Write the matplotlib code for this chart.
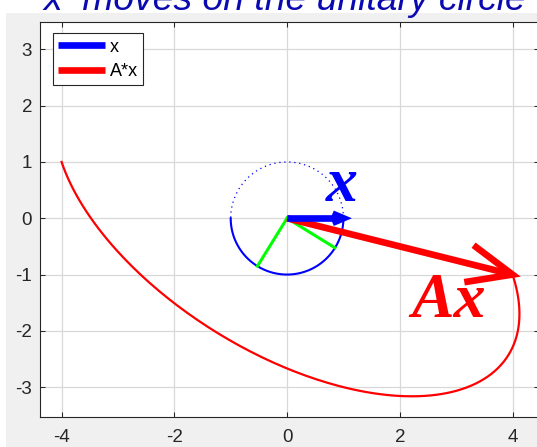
import numpy as np
import matplotlib
matplotlib.use("Agg")
import matplotlib.pyplot as plt
from matplotlib.patches import Rectangle

# matrix and the part of the unit circle that x has already travelled
A = np.array([[4.0, -1.0],
              [-1.0, 3.0]])
theta_done = (np.pi, 2 * np.pi)      # solid part of the circle, traced by A*x
theta_todo = (0.0, np.pi)            # dotted part, still to come
x_now = np.array([1.0, 0.0])         # current x on the circle

x_ticks = [-4, -2, 0, 2, 4]
y_ticks = [-3, -2, -1, 0, 1, 2, 3]
x_lim = (-4.376, 4.47)
y_lim = (-3.53, 3.495)

title_text = "x  moves on the unitary circle"
legend_labels = ["x", "A*x"]

BLUE = (0, 0, 1)
RED = (1, 0, 0)
GREEN = (0, 1, 0)
DARK = "#262626"

plt.rcParams["font.family"] = ["Liberation Sans", "DejaVu Sans"]
plt.rcParams["axes.unicode_minus"] = False


def quiver_arrow(ax, v, color, label, lw=4.8, head=0.21, spread=23):
    """Thick arrow from the origin with an open two-barb head."""
    ax.plot([0, v[0]], [0, v[1]], color=color, lw=lw,
            solid_capstyle="butt", label=label, zorder=5)
    n = np.linalg.norm(v)
    back = -v / n
    ends = []
    for a in (np.radians(spread), -np.radians(spread)):
        rot = np.array([[np.cos(a), -np.sin(a)], [np.sin(a), np.cos(a)]])
        ends.append(v + head * n * rot @ back)
    ax.plot([ends[0][0], v[0], ends[1][0]], [ends[0][1], v[1], ends[1][1]],
            color=color, lw=lw, solid_joinstyle="miter",
            solid_capstyle="butt", zorder=5)


fig = plt.figure(figsize=(5.37, 4.47), dpi=100, facecolor="white")
# grey window area below the white strip holding the title
fig.patches.append(Rectangle((6 / 537, 0), 1, 1 - 13 / 447,
                             transform=fig.transFigure, facecolor="#f0f0f0",
                             edgecolor="none", zorder=-10))
fig.text(44 / 537, 1 - 10 / 447, title_text, color="#0a0ab0", fontsize=26.8,
         style="italic", ha="left", va="baseline")

ax = fig.add_axes([40.4 / 537, 30 / 447, 498.6 / 537, 395.5 / 447])
ax.set_facecolor("white")

# unit circle: solid where x has been, dotted where it has not
t = np.linspace(*theta_done, 200)
ax.plot(np.cos(t), np.sin(t), color=BLUE, lw=1.5, zorder=3)
t2 = np.linspace(*theta_todo, 200)
ax.plot(np.cos(t2), np.sin(t2), color=BLUE, lw=0.9, ls=(0, (1, 3)), zorder=3)

# eigenvectors, shown on the lower half
vals, vecs = np.linalg.eigh(A)
for k in range(2):
    e = vecs[:, k]
    if e[1] > 0:
        e = -e
    ax.plot([0, e[0]], [0, e[1]], color=GREEN, lw=2.2, zorder=3)

# trace of A*x
pts = A @ np.vstack([np.cos(t), np.sin(t)])
ax.plot(pts[0], pts[1], color=RED, lw=1.6, zorder=4)

Ax_now = A @ x_now
quiver_arrow(ax, Ax_now, RED, legend_labels[1])
quiver_arrow(ax, x_now, BLUE, legend_labels[0])

ax.text(0.976, 0.574, "x", color=BLUE, fontsize=46, family="Liberation Serif",
        weight="bold", style="italic", ha="center", va="center", zorder=6)
ax.text(2.875, -1.49, "Ax", color=RED, fontsize=46, family="Liberation Serif",
        weight="bold", style="italic", ha="center", va="center", zorder=6)

ax.set_xlim(*x_lim)
ax.set_ylim(*y_lim)
ax.set_xticks(x_ticks)
ax.set_yticks(y_ticks)
ax.grid(True, color="#d8d8d8", lw=0.9)
ax.set_axisbelow(True)
ax.tick_params(direction="in", length=3.6, width=0.75, colors=DARK,
               labelsize=13.5, top=True, right=True)
ax.tick_params(axis="x", pad=9)
ax.tick_params(axis="y", pad=6)
for s in ax.spines.values():
    s.set_color(DARK)
    s.set_linewidth(0.8)

handles, labels = ax.get_legend_handles_labels()
order = [labels.index(l) for l in legend_labels]
leg = ax.legend([handles[i] for i in order], [labels[i] for i in order],
                loc="upper left", bbox_to_anchor=(0.0247, 0.970),
                borderaxespad=0, fontsize=13, handlelength=2.6,
                handletextpad=0.25, labelspacing=0.4, borderpad=0.3,
                fancybox=False, framealpha=1, edgecolor=DARK)
leg.get_frame().set_linewidth(0.8)

fig.savefig("out.png", dpi=100, facecolor=fig.get_facecolor())
